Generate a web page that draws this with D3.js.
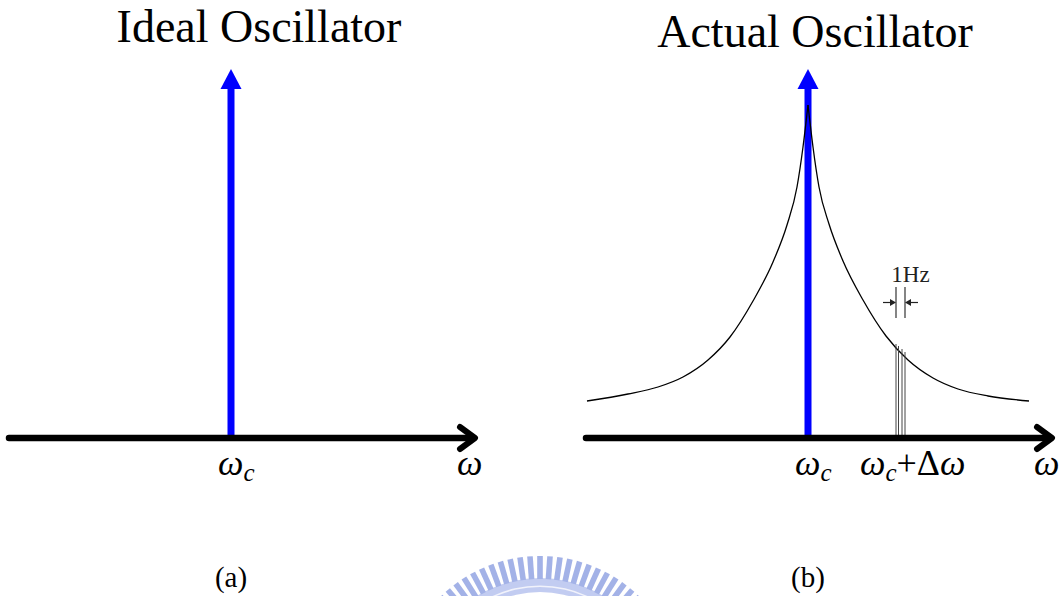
<!DOCTYPE html>
<html>
<head>
<meta charset="utf-8">
<script src="https://cdn.jsdelivr.net/npm/d3@7"></script>
<style>
	body { margin:0; background:#fff; }
	svg text { font-family: "Liberation Serif", "Times New Roman", serif; }
</style>
</head>
<body>
<div id="chart"></div>
<script>
//titles and tags of the two panels
var panelTitles = ["Ideal Oscillator", "Actual Oscillator"];
var panelTags = ["(a)", "(b)"];

//skirt of the actual oscillator: offset from carrier vs level
var skirtOffset = [-221,-180,-150,-125,-100,-78,-55,-35,-21,-11,-5,0,5,11,21,35,55,78,100,125,150,180,221];
var skirtLevel  = [37,44,51,61,78,101,137,176,213,251,291,333,291,251,214,177,138,102,78,60,49,42,37];

//the carrier impulse (tip of arrow)
var carrierLevel = 369;

//thin 1Hz slices sitting under the skirt at wc+dw
var sliceOffset = [88,90.5,94,97];
var sliceLevel  = [94,92,89,86];
var markerEdges = [88,97];

var width = 1062,
	height = 596;

var svg = d3.select("#chart")
	.append("svg")
	.attr("width", width)
	.attr("height", height);

///////////////////////////////////////////////////////////////////////////
//////////////////////////////// Scales ///////////////////////////////////
///////////////////////////////////////////////////////////////////////////

var yScale = d3.scaleLinear().domain([0, 333]).range([438, 105]);
var xA = d3.scaleLinear().domain([-220, 220]).range([11, 451]);
var xB = d3.scaleLinear().domain([-220, 220]).range([588, 1028]);
var axisExtent = [-222, 244];

function drawAxis(x) {
	var y0 = yScale(0),
		x0 = x(axisExtent[0]),
		x1 = x(axisExtent[1]);
	svg.append("line")
		.attr("x1", x0).attr("x2", x1 - 2)
		.attr("y1", y0).attr("y2", y0)
		.style("stroke", "#000")
		.style("stroke-width", 6.5)
		.style("stroke-linecap", "round");
	//open chevron head
	svg.append("path")
		.attr("d", "M" + (x1 - 15) + "," + (y0 - 11) + "L" + x1 + "," + y0 + "L" + (x1 - 15) + "," + (y0 + 11))
		.style("fill", "none")
		.style("stroke", "#000")
		.style("stroke-width", 6)
		.style("stroke-linecap", "round")
		.style("stroke-linejoin", "round");
	//omega at the end
	svg.append("text")
		.attr("x", x1 - 18)
		.attr("y", 475)
		.style("font-size", "36px")
		.style("font-style", "italic")
		.text("ω");
}

function drawCarrier(x) {
	var cx = x(0),
		tip = yScale(carrierLevel);
	svg.append("line")
		.attr("x1", cx).attr("x2", cx)
		.attr("y1", yScale(0)).attr("y2", tip + 18)
		.style("stroke", "#0000ff")
		.style("stroke-width", 7);
	svg.append("path")
		.attr("d", "M" + cx + "," + tip + "L" + (cx + 10.5) + "," + (tip + 20) + "L" + (cx - 10.5) + "," + (tip + 20) + "Z")
		.style("fill", "#0000ff");
	//wc label
	var t = svg.append("text")
		.attr("x", cx - 13)
		.attr("y", 475)
		.style("font-size", "36px")
		.style("font-style", "italic");
	t.append("tspan").text("ω");
	t.append("tspan").attr("dy", 6).style("font-size", "25px").text("c");
}

function drawTitle(i, cx, baseline) {
	svg.append("text")
		.attr("x", cx)
		.attr("y", baseline)
		.attr("text-anchor", "middle")
		.style("font-size", "46px")
		.text(panelTitles[i]);
	svg.append("text")
		.attr("x", i == 0 ? xA(0) : xB(0))
		.attr("y", 587)
		.attr("text-anchor", "middle")
		.style("font-size", "29px")
		.text(panelTags[i]);
}

///////////////////////////////////////////////////////////////////////////
/////////////////////////////// Watermark /////////////////////////////////
///////////////////////////////////////////////////////////////////////////

var wm = svg.append("g")
	.attr("transform", "translate(540,698)")
	.style("opacity", 0.8);
wm.append("path")
	.attr("d", d3.arc().innerRadius(106).outerRadius(120).startAngle(-0.9).endAngle(0.9)())
	.style("fill", "#b4c0ee");
wm.append("path")
	.attr("d", d3.arc().innerRadius(111).outerRadius(112.5).startAngle(-0.9).endAngle(0.9)())
	.style("fill", "#eef0fb");
wm.selectAll(".tooth")
	.data(d3.range(-11, 12))
	.enter().append("rect")
	.attr("class", "tooth")
	.attr("x", -2.8)
	.attr("y", -142)
	.attr("width", 5.6)
	.attr("height", 23)
	.attr("transform", function(d) { return "rotate(" + (d * 4.05) + ")"; })
	.style("fill", "#8d9fe2");

///////////////////////////////////////////////////////////////////////////
//////////////////////////// Panel (a) ideal //////////////////////////////
///////////////////////////////////////////////////////////////////////////

drawTitle(0, 259, 42);
drawCarrier(xA);
drawAxis(xA);

///////////////////////////////////////////////////////////////////////////
//////////////////////////// Panel (b) actual /////////////////////////////
///////////////////////////////////////////////////////////////////////////

drawTitle(1, 815, 47);
drawCarrier(xB);

//skirt, drawn as two branches so the peak stays a cusp
var skirt = skirtOffset.map(function(d, i) { return {x: d, v: skirtLevel[i]}; });
var line = d3.line()
	.x(function(d) { return xB(d.x); })
	.y(function(d) { return yScale(d.v); })
	.curve(d3.curveMonotoneX);
[skirt.filter(function(d) { return d.x <= 0; }), skirt.filter(function(d) { return d.x >= 0; })]
	.forEach(function(branch) {
		svg.append("path")
			.attr("d", line(branch))
			.style("fill", "none")
			.style("stroke", "#000")
			.style("stroke-width", 1.3);
	});

//1Hz slices
svg.selectAll(".slice")
	.data(sliceOffset)
	.enter().append("line")
	.attr("class", "slice")
	.attr("x1", function(d) { return xB(d); })
	.attr("x2", function(d) { return xB(d); })
	.attr("y1", yScale(0))
	.attr("y2", function(d, i) { return yScale(sliceLevel[i]); })
	.style("stroke", "#444")
	.style("stroke-width", 1);

drawAxis(xB);

//1Hz marker with arrows pointing in
var my = 302.5;
svg.selectAll(".edge")
	.data(markerEdges)
	.enter().append("line")
	.attr("class", "edge")
	.attr("x1", function(d) { return xB(d); })
	.attr("x2", function(d) { return xB(d); })
	.attr("y1", 287).attr("y2", 318)
	.style("stroke", "#333")
	.style("stroke-width", 1.2);
markerEdges.forEach(function(d, i) {
	var ex = xB(d),
		dir = i == 0 ? 1 : -1,
		start = ex - dir * 13;
	svg.append("line")
		.attr("x1", start).attr("x2", ex - dir * 4)
		.attr("y1", my).attr("y2", my)
		.style("stroke", "#222")
		.style("stroke-width", 1.2);
	svg.append("path")
		.attr("d", "M" + ex + "," + my + "L" + (ex - dir * 6) + "," + (my - 3.5) + "L" + (ex - dir * 6) + "," + (my + 3.5) + "Z")
		.style("fill", "#222");
});
svg.append("text")
	.attr("x", xB((markerEdges[0] + markerEdges[1]) / 2) + 10)
	.attr("y", 282)
	.attr("text-anchor", "middle")
	.style("font-size", "23px")
	.style("fill", "#222")
	.text("1Hz");

//wc + dw label
var lab = svg.append("text")
	.attr("x", 860)
	.attr("y", 475)
	.style("font-size", "36px");
lab.append("tspan").style("font-style", "italic").text("ω");
lab.append("tspan").attr("dy", 6).style("font-size", "25px").style("font-style", "italic").text("c");
lab.append("tspan").attr("dy", -6).text("+Δ");
lab.append("tspan").style("font-style", "italic").text("ω");
</script>
</body>
</html>
